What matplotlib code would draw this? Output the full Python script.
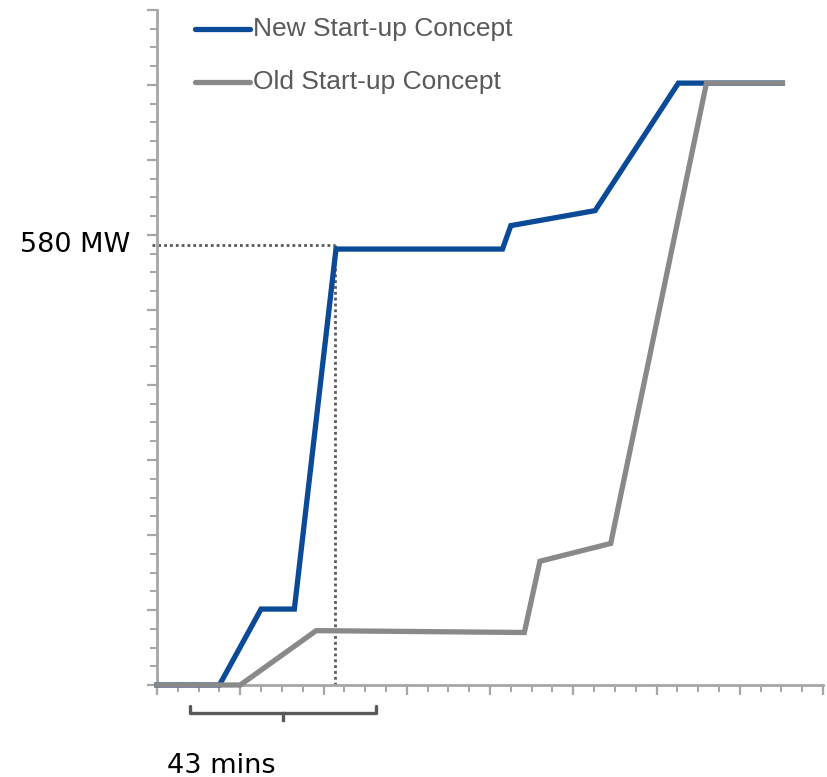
import matplotlib.pyplot as plt

# x in minor-tick units (32 across), y in minor-tick units (36 up)
new_x = [0, 3, 5, 6.6, 8.6, 16.6, 17.0, 21.05, 25.05, 30.05]
new_y = [0, 0, 4.05, 4.05, 23.25, 23.25, 24.5, 25.3, 32.1, 32.1]

old_x = [0, 4, 7.65, 17.65, 18.4, 21.8, 26.4, 30.05]
old_y = [0, 0, 2.9, 2.8, 6.6, 7.55, 32.1, 32.1]

series_names = ['New Start-up Concept', 'Old Start-up Concept']
mw_label = '580 MW'
mw_level = 23.47
mw_time = 8.55
bracket_span = (1.6, 10.5)
bracket_label = '43 mins'

blue = '#0b4a96'
grey = '#898989'
axis_grey = '#a6a6a6'
text_grey = '#595959'

fig = plt.figure(figsize=(8.27, 7.77), dpi=100)
ax = fig.add_axes([157/827, 92/777, 666/827, 675/777])

ax.plot(new_x, new_y, color=blue, lw=3.8, solid_joinstyle='miter', clip_on=False, zorder=3)
ax.plot(old_x, old_y, color=grey, lw=3.8, solid_joinstyle='miter', clip_on=False, zorder=4)

# dotted reference lines for 580 MW
ax.plot([-0.25, mw_time], [mw_level, mw_level], color=text_grey, lw=2,
        ls=(0, (1, 1.1)), clip_on=False, zorder=2)
ax.plot([mw_time, mw_time], [0, mw_level], color=text_grey, lw=2,
        ls=(0, (1, 1.1)), clip_on=False, zorder=2)
ax.text(-1.3, mw_level, mw_label, ha='right', va='center', fontsize=19.5,
        family='DejaVu Sans', color='black')

# bracket under x-axis
b0, b1 = bracket_span
bm = (b0 + b1) / 2
ax.plot([b0, b0, b1, b1], [-1.1, -1.5, -1.5, -1.1], color=text_grey, lw=2.4,
        solid_joinstyle='round', solid_capstyle='round', clip_on=False)
ax.plot([bm, bm], [-1.5, -1.85], color=text_grey, lw=2.4, clip_on=False)
ax.text(bm - 2.95, -4.3, bracket_label, ha='center', va='center', fontsize=19.5,
        family='DejaVu Sans', color='black')

ax.set_xlim(0, 32)
ax.set_ylim(0, 36)
for s in ['top', 'right']:
    ax.spines[s].set_visible(False)
for s in ['left', 'bottom']:
    ax.spines[s].set_color(axis_grey)
    ax.spines[s].set_linewidth(2)
ax.set_xticks(range(0, 33, 4))
ax.set_xticks(range(0, 33), minor=True)
ax.set_yticks(range(0, 37, 4))
ax.set_yticks(range(0, 37), minor=True)
ax.set_xticklabels([])
ax.set_yticklabels([])
ax.tick_params(which='major', length=7, width=1.6, color=axis_grey)
ax.tick_params(which='minor', length=5, width=1.4, color=axis_grey)

# legend drawn by hand
for i, (name, col) in enumerate(zip(series_names, [blue, grey])):
    yy = 1 - (19 + 53 * i) / 675
    ax.plot([38 / 666, 93 / 666], [yy, yy], color=col, lw=3.8,
            solid_capstyle='round', transform=ax.transAxes, clip_on=False)
    ax.text(96 / 666, yy, name, transform=ax.transAxes, ha='left', va='center',
            fontsize=19, family='Liberation Sans', color=text_grey)

fig.savefig('out.png', dpi=100)
